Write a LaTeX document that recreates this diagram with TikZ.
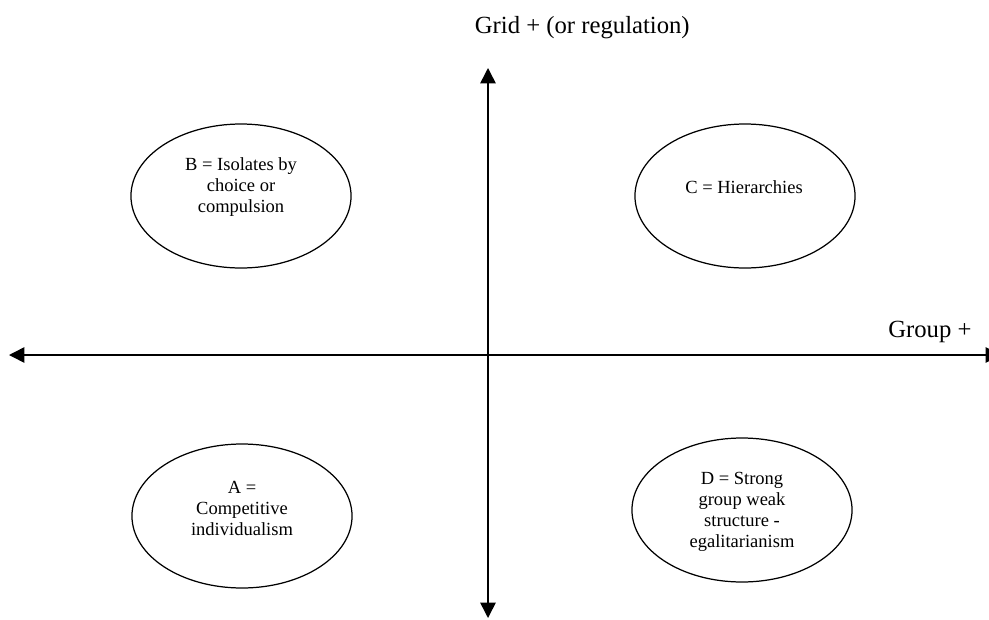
\documentclass[tikz,border=0pt]{standalone}
\usepackage{fontspec}
\setmainfont{Liberation Serif}
\usetikzlibrary{positioning,arrows.meta,shapes.geometric}

\begin{document}
\begin{tikzpicture}[x=0.648pt, y=-0.648pt,
    axis/.style = {line width=1pt, {Triangle[length=10pt,width=10pt]}-{Triangle[length=10pt,width=10pt]}},
    quad/.style = {ellipse, draw, line width=0.8pt, minimum width=142.6pt, minimum height=93.3pt, inner sep=0pt},
    txt/.style = {align=center, font=\fontsize{12}{13.6}\selectfont, inner sep=0pt}]
    \useasboundingbox (0,0) rectangle (989,619);
    % axes
    \coordinate (west) at (9,355);
    \coordinate (east) at (1001,355);
    \coordinate (north) at (488,68);
    \coordinate (south) at (488,618);
    \draw[axis] (west) -- (east);
    \draw[axis] (south) -- (north);
    \node[anchor=base east, font=\fontsize{16}{19}\selectfont, inner sep=0pt] (grid) at (690,33) {Grid + (or regulation)};
    \node[anchor=base west, font=\fontsize{16}{19}\selectfont, inner sep=0pt] (group) at (888,337) {Group +};
    % the four quadrants
    \node[quad] (iso) at (241,196) {};
    \node[quad] (hier) at (745,196) {};
    \node[quad] (comp) at (242,516) {};
    \node[quad] (egal) at (742,510) {};
    \node[txt] (isot) at (241,187) {B = Isolates by\\choice or\\compulsion};
    \node[txt] (hiert) at (744,187) {C = Hierarchies};
    \node[txt] (compt) at (242,508) {A =\\Competitive\\individualism};
    \node[txt] (egalt) at (742,512) {D = Strong\\group weak\\structure -\\egalitarianism};
\end{tikzpicture}
\end{document}
